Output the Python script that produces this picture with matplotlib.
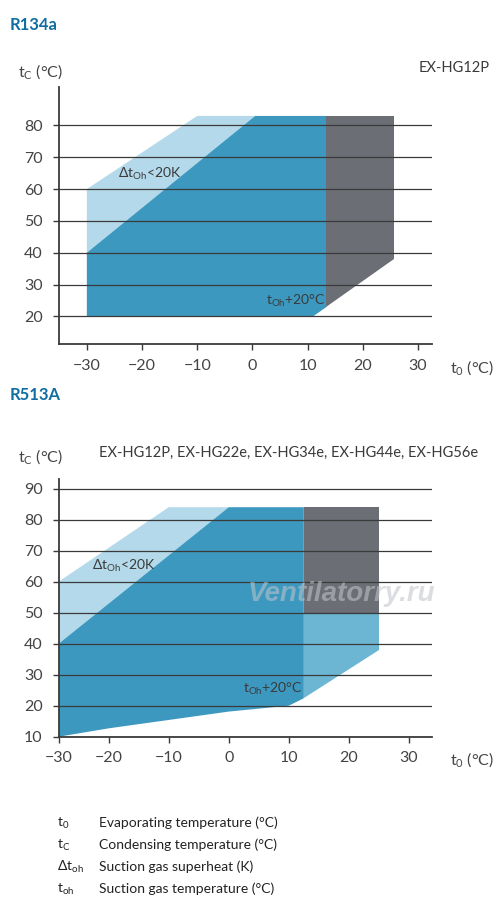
import numpy as np
import matplotlib.pyplot as plt

plt.rcParams['font.family'] = ['Lato', 'DejaVu Sans']
plt.rcParams['mathtext.default'] = 'regular'

# colours
pale = '#b3d9ea'
main = '#3d98c0'
mid = '#6cb6d3'
grey = '#6b6e74'
txt = '#3a3a3a'

xticks = [-30, -20, -10, 0, 10, 20, 30]

# R134a  (t0, tc)
r134_light_x = [-30, -30, -10, 0.5]
r134_light_y = [40, 60, 83, 83]
r134_main_x = [-30, -30, 0.5, 13.4, 13.4, 11]
r134_main_y = [20, 40, 83, 83, 22.9, 20]
r134_grey_x = [13.4, 13.4, 25.7, 25.7]
r134_grey_y = [22.9, 83, 83, 38]
r134_yticks = [20, 30, 40, 50, 60, 70, 80]

# R513A
r513_light_x = [-30, -30, -10, 0]
r513_light_y = [40, 60, 84, 84]
r513_main_x = [-30, -30, 0, 12.5, 12.5, 10, 0, -10, -20]
r513_main_y = [10, 40, 84, 84, 22.4, 20, 18.1, 15.4, 12.7]
r513_mid_x = [12.5, 12.5, 25, 25]
r513_mid_y = [22.4, 50, 50, 38]
r513_grey_x = [12.5, 12.5, 25, 25]
r513_grey_y = [50, 84, 84, 50]
r513_yticks = [10, 20, 30, 40, 50, 60, 70, 80, 90]

legend_sym = ['t$_0$', 't$_C$', 'Δt$_{oh}$', 't$_{oh}$']
legend_txt = ['Evaporating temperature (°C)', 'Condensing temperature (°C)',
              'Suction gas superheat (K)', 'Suction gas temperature (°C)']


def style(ax, yticks):
    for s in ['top', 'right']:
        ax.spines[s].set_visible(False)
    for s in ['left', 'bottom']:
        ax.spines[s].set_color(txt)
        ax.spines[s].set_linewidth(1.3)
    ax.set_yticks(yticks)
    ax.set_xticks(xticks)
    ax.tick_params(length=4.5, width=1.0, color=txt, labelsize=11.5,
                   labelcolor='#444444', pad=6)
    ax.tick_params(axis='y', pad=7)
    ax.grid(axis='y', color=txt, linewidth=0.9)
    ax.set_axisbelow(False)


fig = plt.figure(figsize=(5, 9.13), dpi=100)
H = 913.0

ax1 = fig.add_axes([58.7 / 500, 1 - 344 / H, 373 / 500, 256.7 / H])
ax1.fill(r134_light_x, r134_light_y, color=pale, lw=0)
ax1.fill(r134_main_x, r134_main_y, color=main, lw=0)
ax1.fill(r134_grey_x, r134_grey_y, color=grey, lw=0)
ax1.set_xlim(-35.1, 32.5)
ax1.set_ylim(11.3, 92)
style(ax1, r134_yticks)
ax1.text(-24.3, 64.9, 'Δt$_{Oh}$<20K', fontsize=10, color=txt, va='center')
ax1.text(2.4, 24.9, 't$_{Oh}$+20°C', fontsize=10, color=txt, va='center')


# the lower chart squeezes the -30..-20 step
def fwd(x):
    x = np.asarray(x, dtype=float)
    return np.where(x < -20, -20 + (x + 20) * 5 / 6, x)


def inv(x):
    x = np.asarray(x, dtype=float)
    return np.where(x < -20, -20 + (x + 20) * 6 / 5, x)


ax2 = fig.add_axes([58.7 / 500, 1 - 736.7 / H, 373 / 500, 257.4 / H])
ax2.set_xscale('function', functions=(fwd, inv))
ax2.fill(r513_light_x, r513_light_y, color=pale, lw=0)
ax2.fill(r513_main_x, r513_main_y, color=main, lw=0)
ax2.fill(r513_mid_x, r513_mid_y, color=mid, lw=0)
ax2.fill(r513_grey_x, r513_grey_y, color=grey, lw=0)
ax2.set_xlim(-30, 33.8)
ax2.set_ylim(10, 93)
style(ax2, r513_yticks)
ax2.text(-23.3, 65.1, 'Δt$_{Oh}$<20K', fontsize=10, color=txt, va='center')
ax2.text(2.4, 25.3, 't$_{Oh}$+20°C', fontsize=10, color=txt, va='center')

# titles and labels
fig.text(10 / 500, 1 - 25 / H, 'R134a', fontsize=12, fontweight='bold', color='#0e6ea3', va='center')
fig.text(10 / 500, 1 - 395 / H, 'R513A', fontsize=12, fontweight='bold', color='#0e6ea3', va='center')
fig.text(490 / 500, 1 - 68 / H, 'EX-HG12P', fontsize=10.5, color=txt, ha='right', va='center')
fig.text(478 / 500, 1 - 453 / H, 'EX-HG12P, EX-HG22e, EX-HG34e, EX-HG44e, EX-HG56e',
         fontsize=10.5, color=txt, ha='right', va='center')
for yy in [72, 457]:
    fig.text(18 / 500, 1 - yy / H, 't$_C$ (°C)', fontsize=11.5, color='#444444', va='center')
for yy in [368, 760]:
    fig.text(450 / 500, 1 - yy / H, 't$_0$ (°C)', fontsize=11.5, color='#444444', va='center')

fig.text(342 / 500, 1 - 594 / H, 'Ventilatorry.ru', fontsize=20, fontweight='bold',
         style='italic', family=['Liberation Sans', 'DejaVu Sans'],
         color='#c1c4c8', alpha=0.56, ha='center', va='center')

rows = [823, 845, 867, 889]
for sym, desc, yy in zip(legend_sym, legend_txt, rows):
    fig.text(56.7 / 500, 1 - yy / H, sym, fontsize=10, color='#222222', va='center')
    fig.text(98.7 / 500, 1 - yy / H, desc, fontsize=10, color='#222222', va='center')

fig.savefig('out.png', dpi=100)
